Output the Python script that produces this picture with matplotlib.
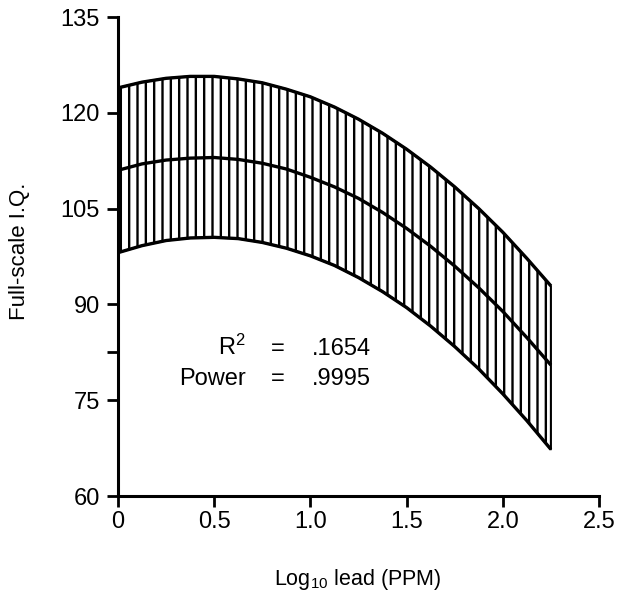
import matplotlib
matplotlib.use('Agg')
import matplotlib.pyplot as plt

plt.rcParams['font.family'] = ['Liberation Sans', 'DejaVu Sans']
plt.rcParams['mathtext.fontset'] = 'custom'
plt.rcParams['mathtext.rm'] = 'Liberation Sans'
plt.rcParams['mathtext.it'] = 'Liberation Sans'
plt.rcParams['hatch.linewidth'] = 1.7

# values
log_lead = [0.0, 0.125, 0.25, 0.375, 0.5, 0.625, 0.75, 0.875, 1.0, 1.125,
            1.25, 1.375, 1.5, 1.625, 1.75, 1.875, 2.0, 2.125, 2.25]
iq_fit = [111.0, 112.0, 112.6, 112.9, 113.0, 112.7, 112.1, 111.2, 109.9, 108.4,
          106.6, 104.4, 101.9, 99.1, 96.0, 92.6, 88.9, 84.8, 80.5]
iq_upper = [123.9, 124.8, 125.4, 125.7, 125.7, 125.3, 124.7, 123.7, 122.5, 120.9,
            119.0, 116.8, 114.3, 111.5, 108.4, 105.0, 101.3, 97.2, 92.9]
iq_lower = [98.1, 99.2, 100.0, 100.4, 100.5, 100.3, 99.7, 98.8, 97.6, 96.1,
            94.2, 92.0, 89.5, 86.6, 83.4, 79.9, 76.0, 71.8, 67.3]

x_ticks = [0, 0.5, 1.0, 1.5, 2.0, 2.5]
x_labels = ['0', '0.5', '1.0', '1.5', '2.0', '2.5']
y_ticks = [60, 75, 90, 105, 120, 135]
y_minor = [82.5]

stats_names = ['R$^2$', 'Power']
stats_values = ['.1654', '.9995']

fig = plt.figure(figsize=(6.18, 5.94), dpi=100)
ax = fig.add_axes([118 / 618, 1 - 496 / 594, (599 - 118) / 618, (496 - 17) / 594])

# shaded band with vertical hatching
ax.fill_between(log_lead, iq_lower, iq_upper, facecolor='none', edgecolor='black',
                hatch='||', linewidth=1.5)
for curve in (iq_upper, iq_fit, iq_lower):
    ax.plot(log_lead, curve, color='black', linewidth=2.4, solid_capstyle='butt')

ax.set_xlim(0, 2.5)
ax.set_ylim(60, 135)
ax.set_xticks(x_ticks)
ax.set_xticklabels(x_labels)
ax.set_yticks(y_ticks)
ax.set_yticks(y_minor, minor=True)

for side in ('top', 'right'):
    ax.spines[side].set_visible(False)
for side in ('left', 'bottom'):
    ax.spines[side].set_linewidth(2.2)

ax.tick_params(axis='both', which='both', direction='out', length=8, width=2,
               labelsize=17, color='black')
ax.tick_params(axis='x', pad=3)
ax.tick_params(axis='y', pad=5)

fig.text(20 / 618, 1 - 251 / 594, 'Full-scale I.Q.', rotation=90, ha='center',
         va='center', fontsize=16)
fig.text(358 / 618, 1 - 580 / 594, 'Log$_{10}$ lead (PPM)', ha='center',
         va='center', fontsize=15.5)

# stats block
baselines = [355, 385]
for name, value, yb in zip(stats_names, stats_values, baselines):
    fy = 1 - yb / 594
    fig.text(246 / 618, fy, name, ha='right', va='baseline', fontsize=17)
    fig.text(278 / 618, fy, '=', ha='center', va='baseline', fontsize=17)
    fig.text(312 / 618, fy, value, ha='left', va='baseline', fontsize=17)

fig.savefig('out.png', dpi=100)
